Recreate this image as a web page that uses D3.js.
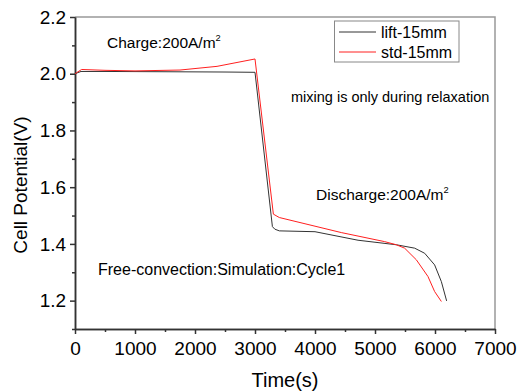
<!DOCTYPE html>
<html><head><meta charset="utf-8">
<script src="https://cdn.jsdelivr.net/npm/d3@7"></script>
<style>body{margin:0;background:#fff}svg{display:block;font-family:Arial,"Liberation Sans",sans-serif}</style>
</head><body><svg id="c" width="518" height="392"></svg>
<script>
const xTicks = [0,1000,2000,3000,4000,5000,6000,7000];
const yTicks = [1.2,1.4,1.6,1.8,2.0,2.2];
const seriesNames = ["lift-15mm","std-15mm"];
const seriesColors = ["#333333","#ff2020"];
const liftT = [0,100,500,1500,2500,3000,3290,3330,3405,4000,4717,5355,5661,5828,5994,6106,6194];
const liftV = [2.000,2.008,2.008,2.007,2.006,2.005,1.461,1.452,1.446,1.443,1.413,1.397,1.385,1.367,1.326,1.267,1.199];
const stdT = [0,110,500,1000,1750,2367,3000,3306,3405,4438,5161,5355,5494,5689,5883,5994,6106];
const stdV = [2.000,2.015,2.012,2.010,2.013,2.026,2.052,1.505,1.493,1.440,1.408,1.397,1.385,1.344,1.285,1.232,1.197];

const svg = d3.select("#c");
const L=75,R=495,T=17,B=329;
const x = d3.scaleLinear().domain([0,7000]).range([L,R]);
const y = d3.scaleLinear().domain([1.1,2.2]).range([B,T]);

svg.append("path").attr("d",`M${L},${T}H${R}V${B}`).attr("fill","none").attr("stroke","#999").attr("stroke-width",1.5);

const xAxis = svg.append("g").attr("transform",`translate(0,${B})`)
  .call(d3.axisBottom(x).tickValues(xTicks).tickFormat(d3.format("d")).tickSize(5).tickSizeOuter(0));
const xMinor = svg.append("g").attr("transform",`translate(0,${B})`)
  .call(d3.axisBottom(x).tickValues(d3.range(500,7000,1000)).tickFormat("").tickSize(3).tickSizeOuter(0));
const yAxis = svg.append("g").attr("transform",`translate(${L},0)`)
  .call(d3.axisLeft(y).tickValues(yTicks).tickFormat(d3.format(".1f")).tickSize(5).tickSizeOuter(0));
const yMinor = svg.append("g").attr("transform",`translate(${L},0)`)
  .call(d3.axisLeft(y).tickValues([1.1,1.3,1.5,1.7,1.9,2.1]).tickFormat("").tickSize(3).tickSizeOuter(0));
[xAxis,xMinor,yAxis,yMinor].forEach(g=>{
  g.selectAll("path,line").attr("stroke","#333").attr("stroke-width",1.5);
  g.selectAll("text").attr("fill","#000").style("font-size","19px").style("font-family","Arial,'Liberation Sans',sans-serif");
});
xAxis.selectAll("text").attr("dy","0.95em");
yAxis.selectAll("text").attr("dx","-0.05em");

const line = d3.line().x(d=>x(d[0])).y(d=>y(d[1]));
const lift = liftT.map((t,i)=>[t,liftV[i]]);
const std = stdT.map((t,i)=>[t,stdV[i]]);
svg.append("path").datum(lift).attr("d",line).attr("fill","none").attr("stroke",seriesColors[0]).attr("stroke-width",1);
svg.append("path").datum(std).attr("d",line).attr("fill","none").attr("stroke",seriesColors[1]).attr("stroke-width",1);

svg.append("text").attr("x",(L+R)/2).attr("y",387).attr("text-anchor","middle").style("font-size","20px").text("Time(s)");
svg.append("text").attr("transform",`translate(27,185) rotate(-90)`).attr("text-anchor","middle").style("font-size","19px").text("Cell Potential(V)");

const lg = svg.append("g");
lg.append("rect").attr("x",334.5).attr("y",21).attr("width",124.5).attr("height",41).attr("fill","#fff").attr("stroke","#888").attr("stroke-width",1);
seriesNames.forEach((n,i)=>{
  const yy = 32+i*20;
  lg.append("line").attr("x1",339).attr("x2",376).attr("y1",yy).attr("y2",yy).attr("stroke",seriesColors[i]).attr("stroke-width",1);
  lg.append("text").attr("x",381).attr("y",yy+6).style("font-size","16px").text(n);
});

function supText(xp,yp,main,sup,fs){
  const t = svg.append("text").attr("x",xp).attr("y",yp).style("font-size",fs+"px");
  t.append("tspan").text(main);
  if(sup) t.append("tspan").attr("dy",-7).style("font-size",(fs*0.6)+"px").text(sup);
}
supText(107,48,"Charge:200A/m","2",15.5);
supText(291,102,"mixing is only during relaxation",null,14.5);
supText(316,200,"Discharge:200A/m","2",15.5);
supText(98,275,"Free-convection:Simulation:Cycle1",null,16);
</script></body></html>
